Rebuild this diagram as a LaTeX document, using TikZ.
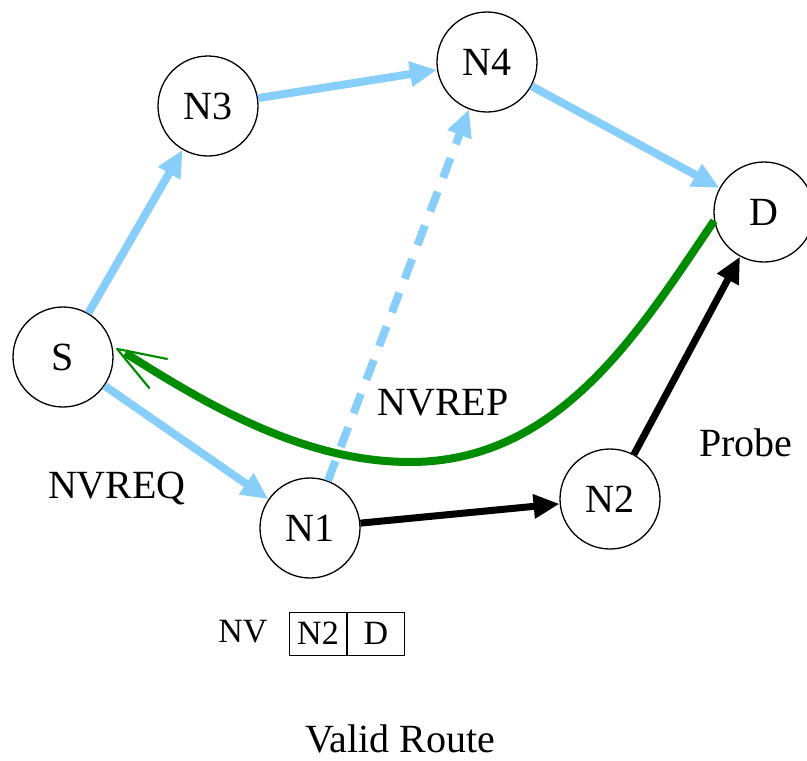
\documentclass[tikz,border=0pt]{standalone}
\usepackage{fontspec}
\setmainfont{Liberation Serif}
\usetikzlibrary{arrows.meta}
\definecolor{pathblue}{RGB}{135,206,250}
\definecolor{replygreen}{RGB}{0,140,0}
\begin{document}
\begin{tikzpicture}[x=1pt,y=-1pt,
  hop/.style={circle,draw=black,line width=1.3pt,minimum size=100pt,inner sep=0pt,
    font=\fontsize{40}{44}\selectfont},
  lbl/.style={font=\fontsize{40}{44}\selectfont,inner sep=0pt},
  small/.style={font=\fontsize{34}{38}\selectfont,inner sep=0pt},
  req/.style={draw=pathblue,line width=8pt,-{Triangle[length=27pt,width=24pt]}},
  probe/.style={draw=black,line width=7pt,-{Triangle[length=26pt,width=23pt]}},
  rep/.style={draw=replygreen,line width=8pt},
  barb/.style={draw=replygreen,line width=2.2pt,line cap=round},
  cell/.style={draw=black,line width=1pt,minimum width=57pt,minimum height=43pt,
    inner sep=0pt,font=\fontsize{34}{38}\selectfont}]
\useasboundingbox (0,0) rectangle (807,761);

% hosts
\node[hop] (S)  at (63,357)  {S};
\node[hop] (N3) at (208,106) {N3};
\node[hop] (N4) at (487,62)  {N4};
\node[hop] (D)  at (764,212) {D};
\node[hop] (N1) at (310,528) {N1};
\node[hop] (N2) at (610,499) {N2};

% request flood
\draw[req] (S) -- (N3);
\draw[req] (N3) -- (N4);
\draw[req] (N4) -- (D);
\draw[req] (S) -- (N1);
\draw[req,dash pattern=on 21pt off 15pt] (N1) -- (N4);

% probe along the valid route
\draw[probe] (N1) -- (N2);
\draw[probe] (N2) -- (D);

% reply back to the source, with an open barbed head
\coordinate (tip) at ([shift={(4,-1)}]S.8);
\draw[rep] (D.190) .. controls (640,330) and (560,462) .. (410,462)
  .. controls (300,462) and (200,400) .. ([shift={(8,4)}]tip);
\draw[barb] (tip) -- ++(50,10);
\draw[barb] (tip) -- ++(32,39);

% labels
\node[lbl] (lreq)   at (117,488) {NVREQ};
\node[lbl] (lrep)   at (443,403) {NVREP};
\node[lbl] (lprobe) at (746,443) {Probe};
\node[lbl,anchor=base,text depth=0pt] (ltitle) at (400,752) {Valid Route};

% node vector
\node[small] (lnv) at (243,632) {NV};
\node[cell] (c1) at (318,633.5) {N2};
\node[cell,anchor=west] (c2) at (c1.east) {D};
\end{tikzpicture}
\end{document}
